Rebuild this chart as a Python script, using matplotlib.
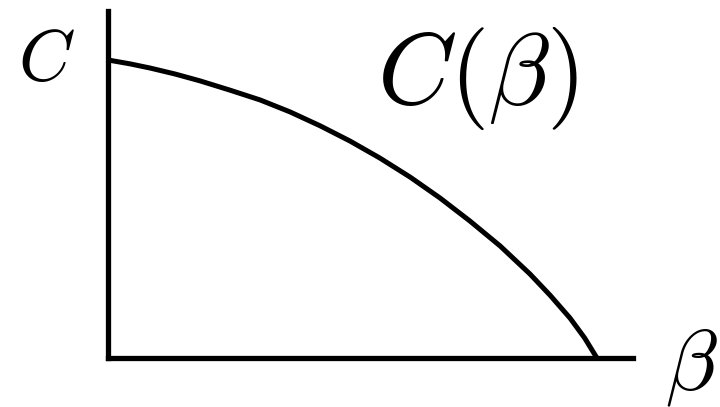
import matplotlib
matplotlib.use("Agg")
import matplotlib.pyplot as plt

plt.rcParams["mathtext.fontset"] = "cm"

# Sketch of the curve C(beta): a concave, decreasing function that starts at C
# on the vertical axis and reaches zero on the beta axis.
beta_vals = [0.0, 0.045, 0.086, 0.137, 0.188, 0.249, 0.311, 0.372, 0.434, 0.495,
             0.556, 0.618, 0.679, 0.740, 0.802, 0.863, 0.904, 0.945, 0.975, 1.0]
c_vals = [1.0, 0.987, 0.973, 0.953, 0.930, 0.899, 0.866, 0.826, 0.779, 0.728,
          0.671, 0.607, 0.537, 0.460, 0.376, 0.282, 0.211, 0.134, 0.067, 0.0]

axis_label_y = r"$C$"
axis_label_x = r"$\beta$"
curve_label = r"$C(\beta)$"

fig = plt.figure(figsize=(7.2, 4.07), dpi=100)
ax = fig.add_axes([0.15, 0.1204, 0.729, 0.8526])

ax.plot(beta_vals, c_vals, color="black", lw=3.6, solid_capstyle="butt",
        solid_joinstyle="round", clip_on=False)

ax.set_xlim(0, 1.0736)
ax.set_ylim(0, 1.1644)

for side in ("top", "right"):
    ax.spines[side].set_visible(False)
for side in ("left", "bottom"):
    ax.spines[side].set_linewidth(3.8)
    ax.spines[side].set_color("black")
ax.set_xticks([])
ax.set_yticks([])
ax.patch.set_visible(False)

fig.text(18 / 720, 327 / 407, axis_label_y, fontsize=52, ha="left", va="baseline")
fig.text(665 / 720, 18 / 407, axis_label_x, fontsize=62, ha="left", va="baseline")
fig.text(377 / 720, 303 / 407, curve_label, fontsize=73, ha="left", va="baseline")

fig.savefig("out.png", dpi=100)
